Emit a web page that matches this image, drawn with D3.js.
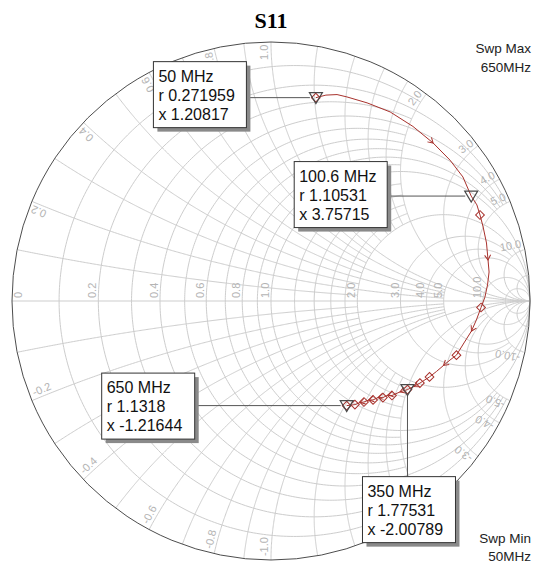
<!DOCTYPE html>
<html>
<head>
<meta charset="utf-8">
<script src="https://cdn.jsdelivr.net/npm/d3@7"></script>
<style>
  body { margin: 0; background: #fff; }
  svg { display: block; font-family: "Liberation Sans", Arial, sans-serif; }
</style>
</head>
<body>
<svg id="chart" width="543" height="569"></svg>
<script>
const title = 'S11'
const sweepMax = '650MHz'
const sweepMin = '50MHz'

// smith grid: normalised values and how far each line reaches along the other family
const resistanceTicks = [0.1, 0.2, 0.3, 0.4, 0.5, 0.6, 0.7, 0.8, 0.9, 1, 1.2, 1.4, 1.6, 1.8, 2, 3, 4, 5, 10, 20]
const resistanceReach = [2, 5, 2, 5, 2, 5, 2, 5, 2, Infinity, 2, 2, 2, 2, Infinity, 10, 10, Infinity, Infinity, Infinity]
const reactanceTicks = [0.1, 0.2, 0.3, 0.4, 0.5, 0.6, 0.7, 0.8, 0.9, 1, 1.2, 1.4, 1.6, 1.8, 2, 3, 4, 5, 10, 20]
const reactanceReach = [2, 5, 2, 5, 2, 5, 2, 5, 2, Infinity, 2, 2, 2, 2, Infinity, 10, 10, Infinity, Infinity, Infinity]
const resistanceLabels = [0, 0.2, 0.4, 0.6, 0.8, 1.0, 2.0, 3.0, 4.0, 5.0, 10.0]
const reactanceLabels = [0.2, 0.4, 0.6, 0.8, 1.0, 2.0, 3.0, 4.0, 5.0, 10.0]

// S11 trace, reflection coefficient (re, im), 50 MHz -> 650 MHz
const traceRe = [0.173, 0.212, 0.255, 0.293, 0.371, 0.460, 0.548, 0.626, 0.691, 0.741,
                 0.773, 0.795, 0.807, 0.819, 0.832, 0.838, 0.842, 0.836, 0.826, 0.811,
                 0.793, 0.774, 0.745, 0.716, 0.691, 0.666, 0.639, 0.612, 0.575, 0.552,
                 0.527, 0.498, 0.467, 0.452, 0.432, 0.413, 0.394, 0.378, 0.359, 0.344,
                 0.324, 0.292]
const traceIm = [0.785, 0.795, 0.797, 0.788, 0.765, 0.730, 0.674, 0.610, 0.544, 0.479,
                 0.405, 0.371, 0.332, 0.286, 0.224, 0.158, 0.112, 0.062, 0.015, -0.025,
                 -0.073, -0.116, -0.162, -0.209, -0.228, -0.249, -0.272, -0.293, -0.317, -0.330,
                 -0.342, -0.351, -0.365, -0.363, -0.373, -0.373, -0.382, -0.382, -0.390, -0.392,
                 -0.400, -0.404]
const symbolIdx = [0, 12, 19, 23, 27, 28, 30, 32, 34, 36, 38, 40, 41]
const arrowIdx = [7, 15, 21, 25, 29, 31, 33, 35, 37, 39]

// markers
const markerNames = ['50 MHz', '100.6 MHz', '350 MHz', '650 MHz']
const markerR = [0.271959, 1.10531, 1.77531, 1.1318]
const markerX = [1.20817, 3.75715, -2.00789, -1.21644]

// callout box placement relative to its marker
const calloutDx = [-162.5, -177, -45, -245]
const calloutDy = [-36, -34.5, 87, -32.5]
const calloutLeader = ['h', 'h', 'v', 'h']

const svg = d3.select('#chart')
const cx = 271, cy = 301, R = 259
const gx = d3.scaleLinear().domain([-1, 1]).range([cx - R, cx + R])
const gy = d3.scaleLinear().domain([-1, 1]).range([cy + R, cy - R])

function gamma(r, x) {
    const d = (r + 1) * (r + 1) + x * x
    return [(r * r - 1 + x * x) / d, 2 * x / d]
}

const line = d3.line().x(d => gx(d[0])).y(d => gy(d[1]))

const grid = svg.append('g')
    .attr('fill', 'none')
    .attr('stroke', '#cdcdcd')
    .attr('stroke-width', 1)

resistanceTicks.forEach((r, i) => {
    const reach = resistanceReach[i]
    const T = isFinite(reach) ? Math.atan(reach / (r + 1)) : Math.PI / 2
    const pts = d3.range(0, 301).map(k => {
        const t = -T + 2 * T * k / 300
        return gamma(r, (r + 1) * Math.tan(t))
    })
    grid.append('path').attr('d', line(pts))
})

reactanceTicks.forEach((x, i) => {
    const reach = reactanceReach[i]
    const T = isFinite(reach) ? Math.atan(reach) : Math.PI / 2
    ;[1, -1].forEach(s => {
        const pts = d3.range(0, 301).map(k => gamma(Math.tan(T * k / 300), s * x))
        grid.append('path').attr('d', line(pts))
    })
})

grid.append('line')
    .attr('x1', gx(-1)).attr('x2', gx(1))
    .attr('y1', gy(0)).attr('y2', gy(0))

svg.append('circle')
    .attr('cx', gx(0)).attr('cy', gy(0))
    .attr('r', gx(1) - gx(0))
    .attr('fill', 'none')
    .attr('stroke', '#4d4d4d')
    .attr('stroke-width', 1)

// grid labels
const labels = svg.append('g')
    .attr('fill', '#b4b4b4')
    .attr('font-size', 11)

resistanceLabels.forEach(v => {
    const px = v === 0 ? gx(-1) + 10 : gx(gamma(v, 0)[0]) - 2
    const py = gy(0) - 3
    labels.append('text')
        .attr('transform', `translate(${px},${py}) rotate(-90)`)
        .text(v === 0 ? '0' : v.toFixed(1))
})

reactanceLabels.forEach(v => {
    ;[1, -1].forEach(s => {
        const g = gamma(0, s * v)
        const phi = Math.atan2(g[1], g[0]) * 180 / Math.PI
        const k = s > 0 ? 0.99 : 0.985
        const px = gx(g[0] * k), py = gy(g[1] * k)
        labels.append('text')
            .attr('transform', `translate(${px},${py}) rotate(${s > 0 ? -phi : -phi - 180})`)
            .attr('text-anchor', s > 0 ? 'end' : 'start')
            .attr('dy', -3)
            .text((s > 0 ? '' : '-') + v.toFixed(1))
    })
})

// trace
const trace = traceRe.map((re, i) => [re, traceIm[i]])
const traceColor = '#a8322d'

svg.append('path')
    .datum(trace)
    .attr('d', line)
    .attr('fill', 'none')
    .attr('stroke', traceColor)
    .attr('stroke-width', 1)

svg.append('g').selectAll('path')
    .data(symbolIdx)
    .join('path')
    .attr('d', d3.symbol().type(d3.symbolSquare).size(38))
    .attr('transform', i => `translate(${gx(trace[i][0])},${gy(trace[i][1])}) rotate(45)`)
    .attr('fill', 'none')
    .attr('stroke', traceColor)
    .attr('stroke-width', 1)

svg.append('g').selectAll('path')
    .data(arrowIdx)
    .join('path')
    .attr('d', 'M-5,-3L0,0L-5,3')
    .attr('transform', i => {
        const a = trace[i - 1], b = trace[i + 1]
        const ang = Math.atan2(gy(b[1]) - gy(a[1]), gx(b[0]) - gx(a[0])) * 180 / Math.PI
        return `translate(${gx(trace[i][0])},${gy(trace[i][1])}) rotate(${ang})`
    })
    .attr('fill', 'none')
    .attr('stroke', traceColor)
    .attr('stroke-width', 1)

// markers and callouts
const boxW = 93, boxH = 66
const notes = svg.append('g')

markerNames.forEach((name, i) => {
    const g = gamma(markerR[i], markerX[i])
    const px = gx(g[0]), py = gy(g[1])
    const bx = px + calloutDx[i], by = py + calloutDy[i]

    if (calloutLeader[i] === 'h') {
        notes.append('line')
            .attr('x1', bx + boxW).attr('y1', py)
            .attr('x2', px - 6).attr('y2', py)
            .attr('stroke', '#555').attr('stroke-width', 1)
    } else {
        notes.append('line')
            .attr('x1', px).attr('y1', py + 6)
            .attr('x2', px).attr('y2', by)
            .attr('stroke', '#555').attr('stroke-width', 1)
    }

    notes.append('path')
        .attr('d', 'M-6.5,-5L6.5,-5L0,6Z')
        .attr('transform', `translate(${px},${py})`)
        .attr('fill', 'none')
        .attr('stroke', '#4a4a4a')
        .attr('stroke-width', 1.2)

    notes.append('rect')
        .attr('x', bx + 4).attr('y', by + 4)
        .attr('width', boxW).attr('height', boxH)
        .attr('fill', '#8a8a8a')
    notes.append('rect')
        .attr('x', bx).attr('y', by)
        .attr('width', boxW).attr('height', boxH)
        .attr('fill', '#fff')
        .attr('stroke', '#333')
        .attr('stroke-width', 1)

    const rows = [name, 'r ' + markerR[i], 'x ' + markerX[i]]
    rows.forEach((t, j) => {
        notes.append('text')
            .attr('x', bx + 5)
            .attr('y', by + 20 + j * 19)
            .attr('font-size', 16)
            .attr('fill', '#111')
            .text(t)
    })
})

// title and sweep range
svg.append('text')
    .attr('x', cx).attr('y', 28)
    .attr('text-anchor', 'middle')
    .attr('font-family', '"Liberation Serif", "Times New Roman", serif')
    .attr('font-weight', 'bold')
    .attr('font-size', 22)
    .text(title)

const sweep = svg.append('g')
    .attr('text-anchor', 'end')
    .attr('font-size', 13.5)
    .attr('fill', '#222')
sweep.append('text').attr('x', 531).attr('y', 53).text('Swp Max')
sweep.append('text').attr('x', 531).attr('y', 72).text(sweepMax)
sweep.append('text').attr('x', 531).attr('y', 543).text('Swp Min')
sweep.append('text').attr('x', 531).attr('y', 561).text(sweepMin)
</script>
</body>
</html>
